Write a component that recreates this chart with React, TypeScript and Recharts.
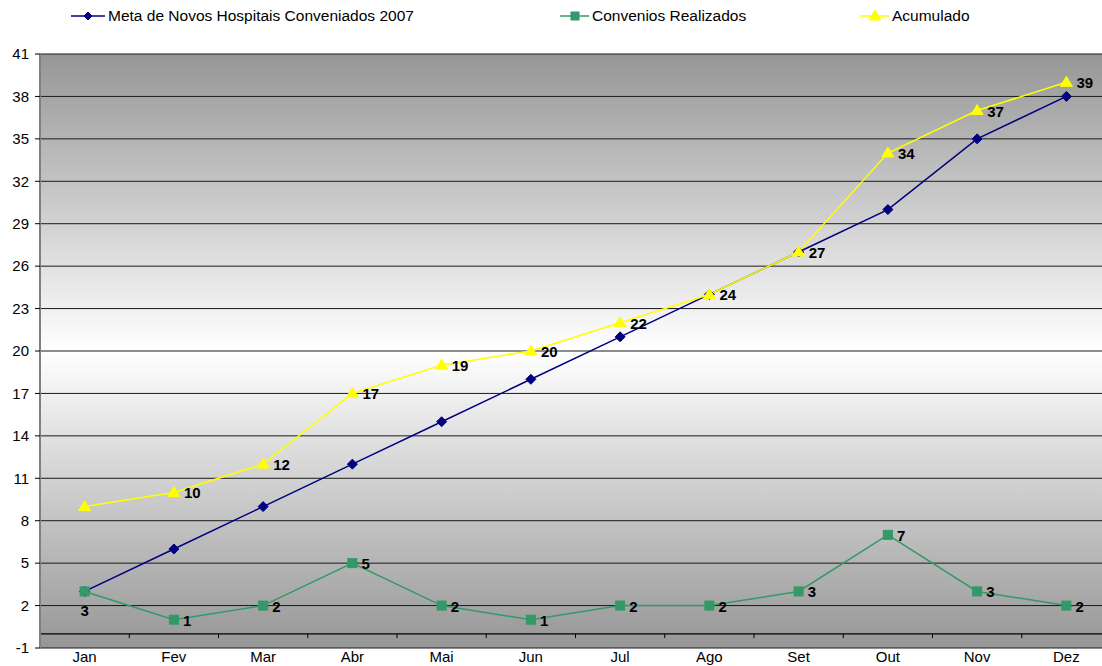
import React from 'react';
import { LineChart, Line, XAxis, YAxis, CartesianGrid, ReferenceLine, LabelList } from 'recharts';

// Monthly values
const months = ['Jan', 'Fev', 'Mar', 'Abr', 'Mai', 'Jun', 'Jul', 'Ago', 'Set', 'Out', 'Nov', 'Dez'];
const metaValues = [3, 6, 9, 12, 15, 18, 21, 24, 27, 30, 35, 38];
const conveniosValues = [3, 1, 2, 5, 2, 1, 2, 2, 3, 7, 3, 2];
const acumuladoValues = [9, 10, 12, 17, 19, 20, 22, 24, 27, 34, 37, 39];
const yTicks = [-1, 2, 5, 8, 11, 14, 17, 20, 23, 26, 29, 32, 35, 38, 41];

// month i sits in the middle of slot [i, i+1]; tick marks go on the slot edges
const monthCenters = months.map((_, i) => i + 0.5);
const slotEdges = months.slice(1).map((_, i) => i + 1);

const data = months.map((month, i) => ({
  slot: monthCenters[i],
  month,
  meta: metaValues[i],
  convenios: conveniosValues[i],
  acumulado: acumuladoValues[i],
}));

const FONT = '"Liberation Sans", Arial, sans-serif';
const NAVY = '#000080';
const GREEN = '#339966';
const YELLOW = '#FFFF00';

const Diamond = ({ cx, cy, size = 5 }: { cx: number; cy: number; size?: number }) => (
  <polygon
    points={`${cx},${cy - size} ${cx + size},${cy} ${cx},${cy + size} ${cx - size},${cy}`}
    fill={NAVY}
    stroke={NAVY}
  />
);

const Square = ({ cx, cy, size = 9 }: { cx: number; cy: number; size?: number }) => (
  <rect x={cx - size / 2} y={cy - size / 2} width={size} height={size} fill={GREEN} stroke={GREEN} />
);

const Triangle = ({ cx, cy }: { cx: number; cy: number }) => (
  <polygon points={`${cx},${cy - 6} ${cx + 6},${cy + 4} ${cx - 6},${cy + 4}`} fill={YELLOW} stroke={YELLOW} />
);

const labelStyle = { fontFamily: FONT, fontSize: 15, fontWeight: 'bold' as const, fill: '#000' };

// Excel-style labels: right of the point, except the first green one (below)
const conveniosLabel = (props: any) => {
  const { x, y, value, index } = props;
  if (index === 0) {
    return (
      <text key={`c${index}`} x={x} y={y + 25} textAnchor="middle" {...labelStyle}>
        {value}
      </text>
    );
  }
  return (
    <text key={`c${index}`} x={x + 9} y={y + 6} {...labelStyle}>
      {value}
    </text>
  );
};

const acumuladoLabel = (props: any) => {
  const { x, y, value, index } = props;
  if (index === 0) return null;
  return (
    <text key={`a${index}`} x={x + 10} y={y + 6} {...labelStyle}>
      {value}
    </text>
  );
};

const LegendTop = () => (
  <svg width={1102} height={34} style={{ position: 'absolute', left: 0, top: 0 }}>
    <g fontFamily={FONT} fontSize={15.5} fill="#000">
      <line x1={71} x2={105} y1={16} y2={16} stroke={NAVY} strokeWidth={1.5} />
      <Diamond cx={88} cy={16} size={4} />
      <text x={108} y={21}>Meta de Novos Hospitais Conveniados 2007</text>

      <line x1={560} x2={589} y1={16} y2={16} stroke={GREEN} strokeWidth={1.5} />
      <Square cx={575} cy={16} size={8} />
      <text x={592} y={21}>Convenios Realizados</text>

      <line x1={860} x2={889} y1={16} y2={16} stroke={YELLOW} strokeWidth={1.5} />
      <Triangle cx={875} cy={16} />
      <text x={892} y={21}>Acumulado</text>
    </g>
  </svg>
);

// the original plot runs a few pixels past the right edge of the picture
const App: React.FC = () => {
  return (
    <div
      style={{
        position: 'absolute',
        left: 0,
        top: 0,
        width: 1102,
        height: 666,
        overflow: 'hidden',
        background: '#fff',
      }}
    >
      <LegendTop />
      <LineChart width={1112} height={666} data={data} margin={{ top: 54, right: 1, left: 0, bottom: 0 }}>
        <defs>
          <linearGradient id="plotBg" x1="0" y1="0" x2="0" y2="1">
            <stop offset="0%" stopColor="#969696" />
            <stop offset="50%" stopColor="#ffffff" />
            <stop offset="100%" stopColor="#969696" />
          </linearGradient>
        </defs>
        <CartesianGrid vertical={false} stroke="#1a1a1a" fill="url(#plotBg)" fillOpacity={1} />
        <XAxis
          dataKey="slot"
          type="number"
          domain={[0, months.length]}
          ticks={monthCenters}
          interval={0}
          allowDataOverflow
          tickFormatter={(v: number) => months[Math.floor(v)]}
          height={18}
          axisLine={false}
          tickLine={false}
          tickSize={0}
          tickMargin={3}
          tick={{ fontFamily: FONT, fontSize: 15, fill: '#000' }}
        />
        <YAxis
          width={40}
          domain={[-1, 41]}
          ticks={yTicks}
          interval={0}
          allowDataOverflow
          axisLine={{ stroke: '#808080', strokeWidth: 2 }}
          tickLine={{ stroke: '#000' }}
          tickSize={5}
          tickMargin={6}
          tick={{ fontFamily: FONT, fontSize: 15, fill: '#000' }}
        />
        <ReferenceLine y={0} stroke="#000" strokeWidth={1.2} />
        {slotEdges.map((k) => (
          <ReferenceLine key={k} segment={[{ x: k, y: 0 }, { x: k, y: -0.3 }]} stroke="#000" />
        ))}
        <Line
          dataKey="meta"
          stroke={NAVY}
          strokeWidth={1.5}
          isAnimationActive={false}
          dot={(p: any) => <Diamond key={`m${p.index}`} cx={p.cx} cy={p.cy} />}
        />
        <Line
          dataKey="convenios"
          stroke={GREEN}
          strokeWidth={1.5}
          isAnimationActive={false}
          dot={(p: any) => <Square key={`s${p.index}`} cx={p.cx} cy={p.cy} />}
        >
          <LabelList dataKey="convenios" content={conveniosLabel} />
        </Line>
        <Line
          dataKey="acumulado"
          stroke={YELLOW}
          strokeWidth={1.5}
          isAnimationActive={false}
          dot={(p: any) => <Triangle key={`t${p.index}`} cx={p.cx} cy={p.cy} />}
        >
          <LabelList dataKey="acumulado" content={acumuladoLabel} />
        </Line>
      </LineChart>
    </div>
  );
};

export default App;
